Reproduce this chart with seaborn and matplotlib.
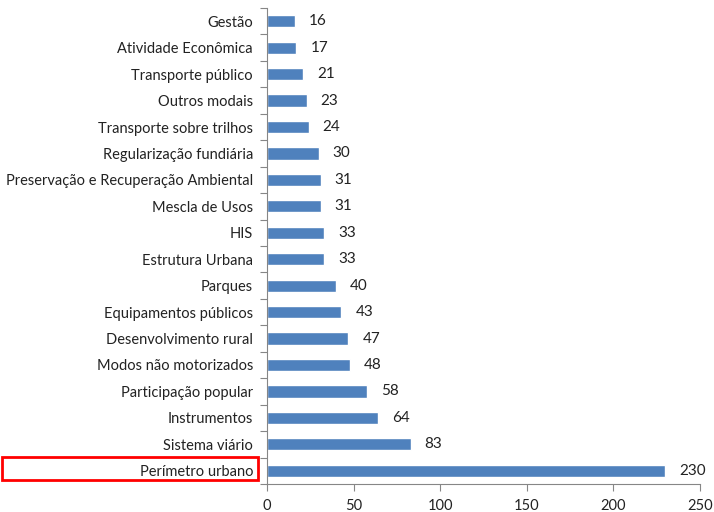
import matplotlib
matplotlib.use("Agg")
import matplotlib.pyplot as plt
import seaborn as sns
import pandas as pd
import numpy as np
from matplotlib.patches import Rectangle

categories = ["Gestão", "Atividade Econômica", "Transporte público", "Outros modais",
              "Transporte sobre trilhos", "Regularização fundiária",
              "Preservação e Recuperação Ambiental", "Mescla de Usos", "HIS",
              "Estrutura Urbana", "Parques", "Equipamentos públicos",
              "Desenvolvimento rural", "Modos não motorizados", "Participação popular",
              "Instrumentos", "Sistema viário", "Perímetro urbano"]
values = [16, 17, 21, 23, 24, 30, 31, 31, 33, 33, 40, 43, 47, 48, 58, 64, 83, 230]
xticks = [0, 50, 100, 150, 200, 250]

df = pd.DataFrame({"cat": categories, "val": values})

sns.set_style("white")
plt.rcParams['font.family'] = ['Lato', 'DejaVu Sans']

fig = plt.figure(figsize=(7.14, 5.12), dpi=100)
ax = fig.add_axes([267/714, 1 - 484/512, (700 - 267)/714, (484 - 8)/512])

sns.barplot(data=df, x="val", y="cat", orient="h", color="#4F81BD",
            saturation=1, width=0.46, ax=ax)

ax.set_xlim(0, 250)
ax.set_ylim(len(categories) - 0.5, -0.5)
ax.set_xticks(xticks)
ax.set_xticklabels([str(t) for t in xticks], fontsize=10.5, color="#222222")
ax.set_xlabel("")
ax.set_ylabel("")
ax.tick_params(axis="y", which="major", length=0, pad=10, labelsize=10.5, labelcolor="#222222")
ax.set_yticks(np.arange(-0.5, len(categories), 1), minor=True)
ax.tick_params(axis="y", which="minor", length=5, color="#868686", width=0.8, left=True)
ax.tick_params(axis="x", which="major", length=5, color="#868686", width=0.8, bottom=True,
               pad=6)

for side in ["top", "right"]:
    ax.spines[side].set_visible(False)
for side in ["left", "bottom"]:
    ax.spines[side].set_visible(True)
    ax.spines[side].set_color("#868686")
    ax.spines[side].set_linewidth(0.8)

ax.bar_label(ax.containers[0], labels=[str(v) for v in values], padding=10,
             fontsize=11, color="#222222")

fig.patches.append(Rectangle((2/714, 1 - 480/512), (258 - 2)/714, (480 - 457)/512,
                             transform=fig.transFigure, fill=False,
                             edgecolor="#FF0000", linewidth=2))

fig.savefig("out.png", dpi=100)
